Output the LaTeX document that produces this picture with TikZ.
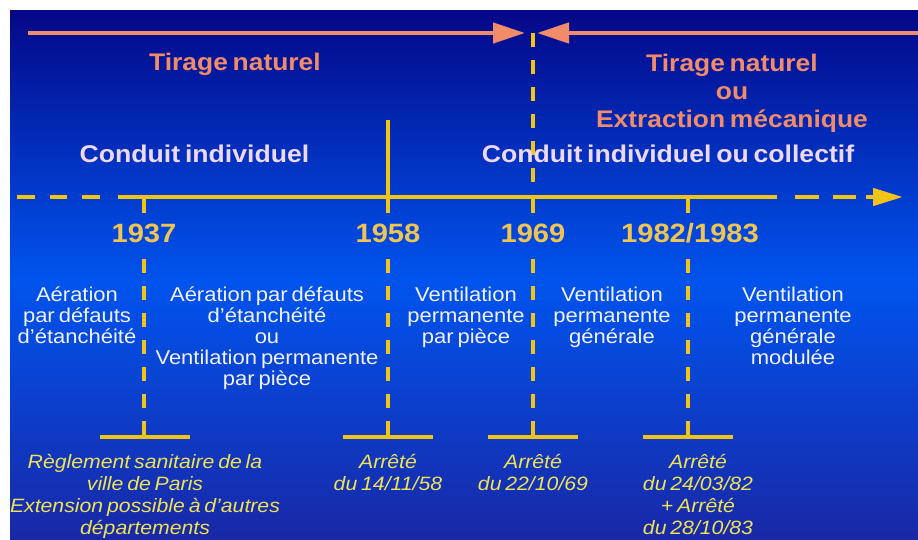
\documentclass[tikz,border=0pt]{standalone}
\usepackage{fontspec}
\setmainfont{Liberation Sans}[FakeStretch=1.1,WordSpace=0.65]
\usetikzlibrary{arrows.meta}
\definecolor{bgtop}{RGB}{4,8,136}
\definecolor{bgmid}{RGB}{0,84,238}
\definecolor{bgbot}{RGB}{24,40,166}
\definecolor{lineyellow}{RGB}{242,196,22}
\definecolor{salmon}{RGB}{240,140,105}
\definecolor{lavender}{RGB}{238,216,245}
\definecolor{yeargold}{RGB}{238,196,82}
\definecolor{ityellow}{RGB}{240,226,84}
\definecolor{softwhite}{RGB}{242,242,250}
\begin{document}
\begin{tikzpicture}[x=1pt,y=-1pt,
  yl/.style={draw=lineyellow,line width=4.5pt},
  ylt/.style={yl,dash pattern=on 14pt off 13pt},
  sl/.style={draw=salmon,line width=4.5pt,-{Triangle[length=32pt,width=20pt]}},
  hd/.style={font=\fontsize{24}{28}\selectfont\bfseries,text=salmon,inner sep=0pt,align=center},
  cd/.style={font=\fontsize{24.2}{28}\selectfont\bfseries,text=lavender,inner sep=0pt},
  yr/.style={font=\fontsize{26.5}{30}\selectfont\bfseries,text=yeargold,inner sep=0pt,anchor=base},
  wt/.style={font=\fontsize{20}{21}\selectfont,text=softwhite,inner sep=0pt,align=center,anchor=north},
  it/.style={font=\fontsize{19.3}{22}\selectfont\itshape,text=ityellow,inner sep=0pt,align=center,anchor=north}]
\useasboundingbox (0,0) rectangle (918,540);
\fill[white] (0,0) rectangle (918,540);
\shade[top color=bgtop,bottom color=bgmid] (10,11) rectangle (918,281);
\shade[top color=bgmid,bottom color=bgbot] (10,280) rectangle (918,540);
% coordinates
\coordinate (a1) at (28,33);
\coordinate (a1e) at (525,33);
\coordinate (a2) at (918,33);
\coordinate (a2e) at (537,33);
% top arrows
\draw[sl] (a1) -- (a1e);
\draw[sl] (a2) -- (a2e);
% timeline
\draw[yl] (17,197) -- (35,197);
\draw[yl] (50,197) -- (67,197);
\draw[yl] (82,197) -- (100,197);
\draw[yl] (118,197) -- (777,197);
\draw[yl] (795,197) -- (819,197);
\draw[yl] (833,197) -- (856,197);
\draw[yl,-{Triangle[length=30pt,width=17pt]}] (866,197) -- (903,197);
% verticals
\draw[ylt] (533,33) -- (533,183);
\draw[yl] (388,120) -- (388,213);
\foreach \x in {144,533,688} {\draw[yl] (\x,197) -- (\x,213);}
\foreach \x in {144,388,533,688} {\draw[ylt] (\x,259) -- (\x,437);}
\draw[yl] (100,437) -- (190,437);
\draw[yl] (343,437) -- (433,437);
\draw[yl] (488,437) -- (578,437);
\draw[yl] (643,437) -- (733,437);
% headings
\node[hd,anchor=base] (tn1) at (235,71) {Tirage naturel};
\node[hd,anchor=north] (tn2) at (732,48) {\rule{0pt}{23pt}Tirage naturel\\ou\\Extraction mécanique};
\node[cd,anchor=base] (ci1) at (194.5,163) {Conduit individuel};
\node[cd,anchor=base] (ci2) at (668,163) {Conduit individuel ou collectif};
% years
\node[yr] (y1) at (144,243) {1937};
\node[yr] (y2) at (388,243) {1958};
\node[yr] (y3) at (533,243) {1969};
\node[yr] (y4) at (690,243) {1982/1983};
% descriptions
\node[wt] (w1) at (77,282) {\rule{0pt}{19pt}Aération\\par défauts\\d’étanchéité};
\node[wt] (w2) at (267,282) {\rule{0pt}{19pt}Aération par défauts\\d’étanchéité\\ou\\Ventilation permanente\\par pièce};
\node[wt] (w3) at (466,282) {\rule{0pt}{19pt}Ventilation\\permanente\\par pièce};
\node[wt] (w4) at (612,282) {\rule{0pt}{19pt}Ventilation\\permanente\\générale};
\node[wt] (w5) at (793,282) {\rule{0pt}{19pt}Ventilation\\permanente\\générale\\modulée};
% regulations
\node[it] (r1) at (145,450) {\rule{0pt}{18pt}Règlement sanitaire de la\\ville de Paris\\Extension possible à d’autres\\départements};
\node[it] (r2) at (388,450) {\rule{0pt}{18pt}Arrêté\\du 14/11/58};
\node[it] (r3) at (533,450) {\rule{0pt}{18pt}Arrêté\\du 22/10/69};
\node[it] (r4) at (698,450) {\rule{0pt}{18pt}Arrêté\\du 24/03/82\\+ Arrêté\\du 28/10/83};
\end{tikzpicture}
\end{document}
